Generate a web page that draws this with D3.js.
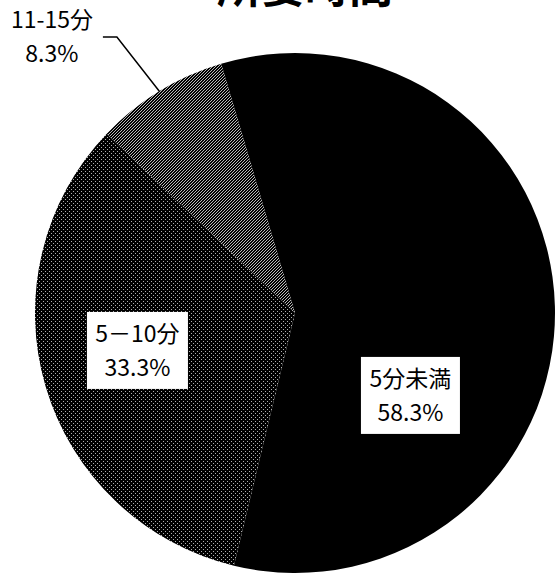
<!DOCTYPE html>
<html>
<head>
<meta charset="utf-8">
<script src="https://cdn.jsdelivr.net/npm/d3@7"></script>
<style>
  html, body { margin: 0; padding: 0; background: #fff; }
  svg { display: block; }
</style>
</head>
<body>
<svg id="chart" width="558" height="576"></svg>
<script>
// ---- data ----
const title = "所要時間";
const categories = ["5分未満", "5－10分", "11-15分"];
const values = [58.3, 33.3, 8.3];
const valueLabels = ["58.3%", "33.3%", "8.3%"];

// ---- layout / style ----
const W = 558, H = 576;
const cx = 295, cy = 313, R = 260;
const startDeg = -16.5;
const fills = ["#000000", "url(#dither1)", "url(#dither2)"];
const fontFamily = "'Noto Sans CJK JP', 'Noto Sans', sans-serif";

const svg = d3.select("#chart");
const defs = svg.append("defs");

// dither patterns
function makePattern(id, size, dots, col) {
  const p = defs.append("pattern").attr("id", id)
    .attr("patternUnits", "userSpaceOnUse")
    .attr("width", size).attr("height", size);
  p.append("rect").attr("width", size).attr("height", size).attr("fill", "#000");
  dots.forEach(d => p.append("rect").attr("x", d[0]).attr("y", d[1])
    .attr("width", 1).attr("height", 1).attr("fill", col));
}
makePattern("dither1", 4, [[0,0],[2,2]], "#b0b0b0");
makePattern("dither2", 3, [[0,0],[2,1],[1,2]], "#b8b8b8");

// title (mostly cut off at the top)
svg.append("text")
  .attr("x", 305).attr("y", 3)
  .attr("text-anchor", "middle")
  .attr("font-family", fontFamily)
  .attr("font-weight", "bold")
  .attr("font-size", 44)
  .attr("fill", "#000")
  .text(title);

const data = categories.map((c, i) => ({ cat: c, value: values[i], label: valueLabels[i] }));

const pie = d3.pie().sort(null).value(d => d.value)
  .startAngle(startDeg * Math.PI / 180)
  .endAngle(startDeg * Math.PI / 180 + 2 * Math.PI);
const arcs = pie(data);
const arc = d3.arc().innerRadius(0).outerRadius(R);

const g = svg.append("g").attr("transform", `translate(${cx},${cy})`);
g.selectAll("path.slice").data(arcs).join("path")
  .attr("class", "slice")
  .attr("d", arc)
  .attr("fill", (d, i) => fills[i]);

// label positions (relative to pie centre, fractions of radius)
const labelOffsets = [
  { dx: 0.444, dy: 0.317, box: true, bw: 99 },
  { dx: -0.606, dy: 0.144, box: true, bw: 101 },
  { dx: -0.935, dy: -1.065, box: false }
];
const fs = 23;

arcs.forEach((a, i) => {
  const o = labelOffsets[i];
  const lx = cx + o.dx * R, ly = cy + o.dy * R;
  const lg = svg.append("g");
  const t = lg.append("text")
    .attr("font-family", fontFamily)
    .attr("font-size", fs)
    .attr("fill", "#000")
    .attr("text-anchor", "middle");
  t.append("tspan").attr("x", lx).attr("y", ly - 8).text(a.data.cat);
  t.append("tspan").attr("x", lx).attr("y", ly + 26).text(a.data.label);
  if (o.box) {
    const bh = 77;
    lg.insert("rect", "text")
      .attr("x", lx - o.bw / 2).attr("y", ly - bh / 2)
      .attr("width", o.bw).attr("height", bh)
      .attr("fill", "#fff");
  } else {
    // leader line to the slice's outer arc midpoint
    const mid = (a.startAngle + a.endAngle) / 2;
    const px = cx + Math.sin(mid) * R, py = cy - Math.cos(mid) * R;
    const sx = lx + 51, sy = ly + 1;
    svg.append("polyline")
      .attr("points", [[sx, sy], [sx + 14, sy], [px, py]].map(p => p.join(",")).join(" "))
      .attr("fill", "none").attr("stroke", "#000").attr("stroke-width", 1.5);
  }
});
</script>
</body>
</html>
